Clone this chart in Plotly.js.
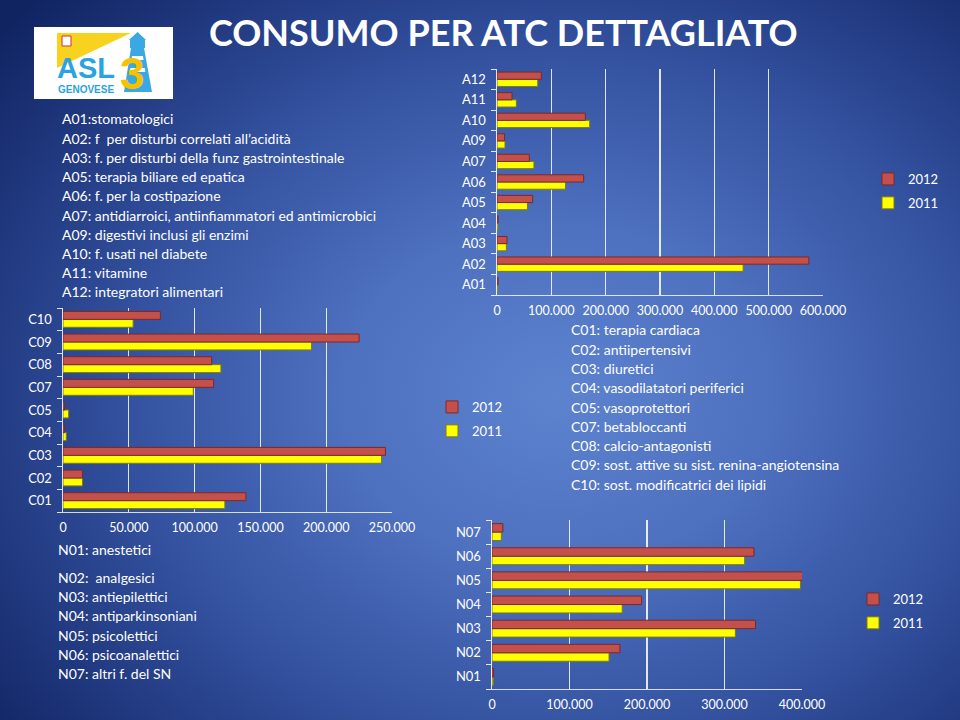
<!DOCTYPE html>
<html><head><meta charset="utf-8">
<script src="https://cdn.plot.ly/plotly-3.0.1.min.js"></script>
<style>
html,body{margin:0;padding:0;width:960px;height:720px;overflow:hidden;}
body{background:radial-gradient(ellipse 75% 80% at 58% 55%, #5d83cf 0%, #4d70bf 30%, #33519f 60%, #1d3479 85%, #102461 100%);}
#chart{width:960px;height:720px;}
</style></head>
<body><div id="chart"></div>
<script>
// ---- data ----
const catA = ['A01','A02','A03','A04','A05','A06','A07','A09','A10','A11','A12'];
const a2012 = [2000,574000,18400,2000,65600,159500,59500,14000,162600,27600,81600];
const a2011 = [1500,453000,17200,1800,56000,126000,68000,14700,170600,35600,75000];

const catC = ['C01','C02','C03','C04','C05','C07','C08','C09','C10'];
const c2012 = [139000,14800,245000,1000,1200,114500,113000,225000,74000];
const c2011 = [123000,14800,242000,2500,4300,99000,120000,188800,53300];

const catN = ['N01','N02','N03','N04','N05','N06','N07'];
const n2012 = [2000,165000,340000,193000,401000,338000,14000];
const n2011 = [1500,151000,314000,168000,398000,326000,12000];

const seriesNames = ['2012','2011'];

const listA = ['A01:stomatologici','A02: f  per disturbi correlati all\u2019acidità','A03: f. per disturbi della funz gastrointestinale','A05: terapia biliare ed epatica','A06: f. per la costipazione','A07: antidiarroici, antiinfiammatori ed antimicrobici','A09: digestivi inclusi gli enzimi','A10: f. usati nel diabete','A11: vitamine','A12: integratori alimentari'];
const listC = ['C01: terapia cardiaca','C02: antiipertensivi','C03: diuretici','C04: vasodilatatori periferici','C05: vasoprotettori','C07: betabloccanti','C08: calcio-antagonisti','C09: sost. attive su sist. renina-angiotensina','C10: sost. modificatrici dei lipidi'];
const listN = ['N01: anestetici','N02:  analgesici','N03: antiepilettici','N04: antiparkinsoniani','N05: psicolettici','N06: psicoanalettici','N07: altri f. del SN'];

const TITLE = 'CONSUMO PER ATC DETTAGLIATO';

// ---- helpers ----
const W = 960, H = 720;
const X = px => px / W;
const Y = py => 1 - py / H;
const FONT = 'Lato, "Open Sans", sans-serif';
const RED = '#c4504c', REDL = '#7e2824', YEL = '#ffff00', YELL = '#7d7d10';

function traces(cats, v12, v11, xa, ya, leg) {
  return [
    {type:'bar', orientation:'h', name:seriesNames[1], y:cats, x:v11, xaxis:xa, yaxis:ya, legend:leg, legendgroup:leg+'b', legendrank:2,
     marker:{color:YEL, line:{color:YELL, width:1}}, hoverinfo:'x+y'},
    {type:'bar', orientation:'h', name:seriesNames[0], y:cats, x:v12, xaxis:xa, yaxis:ya, legend:leg, legendgroup:leg+'a', legendrank:1,
     marker:{color:RED, line:{color:REDL, width:1}}, hoverinfo:'x+y'}
  ];
}

function xax(dom, max, dt, anchor) {
  return {domain:dom, range:[0,max], dtick:dt, tickformat:',d', anchor:anchor,
    showgrid:true, gridcolor:'rgba(255,255,255,0.85)', gridwidth:1.3,
    showline:true, linecolor:'rgba(255,255,255,0.8)', linewidth:1,
    zeroline:false, ticks:'', tickfont:{color:'#ffffff', size:12.5, family:FONT},
    ticklabelstandoff:4, fixedrange:true};
}
function yax(dom, anchor) {
  return {domain:dom, type:'category', anchor:anchor, showgrid:false, zeroline:false,
    showline:true, linecolor:'rgba(255,255,255,0.85)', linewidth:1.5,
    ticks:'outside', tickson:'boundaries', ticklen:5, tickcolor:'rgba(255,255,255,0.85)',
    tickfont:{color:'#ffffff', size:13, family:FONT}, ticklabelstandoff:7, fixedrange:true};
}

const data = [].concat(
  traces(catA, a2012, a2011, 'x', 'y', 'legend'),
  traces(catC, c2012, c2011, 'x2', 'y2', 'legend2'),
  traces(catN, n2012, n2011, 'x3', 'y3', 'legend3')
);

const annotations = [];
annotations.push({text:'<b>'+TITLE+'</b>', x:X(503), y:Y(32), xref:'paper', yref:'paper', showarrow:false,
  xanchor:'center', yanchor:'middle', font:{family:FONT, size:36, color:'#ffffff'}});
function addList(lines, x0, ys) {
  lines.forEach((t,i) => annotations.push({text:t, x:X(x0), y:Y(ys[i]), xref:'paper', yref:'paper', showarrow:false,
    xanchor:'left', yanchor:'middle', font:{family:FONT, size:14, color:'#ffffff'}}));
}
addList(listA, 60, listA.map((_,i)=>119+i*19.2));
addList(listC, 569, listC.map((_,i)=>330+i*19.25));
addList(listN, 56, [549,577,596,615,635,654,673]);

// logo (decorative)
annotations.push({text:'<b>ASL</b>', x:X(55), y:Y(68), xref:'paper', yref:'paper', showarrow:false, xanchor:'left', yanchor:'middle',
  font:{family:'"Liberation Sans", sans-serif', size:29, color:'#2ba3e0'}});
annotations.push({text:'<b>GENOVESE</b>', x:X(56), y:Y(89), xref:'paper', yref:'paper', showarrow:false, xanchor:'left', yanchor:'middle',
  font:{family:'"Liberation Sans", sans-serif', size:10, color:'#2ba3e0'}});
annotations.push({text:'<b>3</b>', x:X(132), y:Y(74), xref:'paper', yref:'paper', showarrow:false, xanchor:'center', yanchor:'middle',
  font:{family:'"Liberation Sans", sans-serif', size:44, color:'#f6c200'}});

function P(pts){ return 'M' + pts.map(p => X(p[0]).toFixed(5)+','+Y(p[1]).toFixed(5)).join(' L') + ' Z'; }
const shapes = [
  {type:'rect', xref:'paper', yref:'paper', x0:X(34), x1:X(173), y0:Y(99), y1:Y(27), fillcolor:'#ffffff', line:{width:0}, layer:'below'},
  {type:'path', xref:'paper', yref:'paper', path:P([[57,33],[131,33],[57,68]]), fillcolor:'#f7d21e', line:{width:0}, layer:'below'},
  {type:'path', xref:'paper', yref:'paper', path:P([[124,92],[152,92],[144,48],[131,48]]), fillcolor:'#3aa8e2', line:{width:0}, layer:'below'},
  {type:'path', xref:'paper', yref:'paper', path:P([[130,48],[145,48],[145,40],[130,40]]), fillcolor:'#3aa8e2', line:{width:0}, layer:'below'},
  {type:'path', xref:'paper', yref:'paper', path:P([[129,40],[146,40],[137.5,32]]), fillcolor:'#3aa8e2', line:{width:0}, layer:'below'},
  {type:'path', xref:'paper', yref:'paper', path:P([[132,56],[143,56],[143.6,60],[131.4,60]]), fillcolor:'#ffffff', line:{width:0}, layer:'below'},
  {type:'path', xref:'paper', yref:'paper', path:P([[130.4,68],[144.8,68],[145.4,72],[129.8,72]]), fillcolor:'#ffffff', line:{width:0}, layer:'below'},
  {type:'rect', xref:'paper', yref:'paper', x0:X(62), x1:X(71), y0:Y(46), y1:Y(36), fillcolor:'#ffffff', line:{color:'#c33', width:1}, layer:'below'}
];

function legendCfg(x, y) {
  return {x:X(x), y:Y(y), xanchor:'left', yanchor:'top', bgcolor:'rgba(0,0,0,0)', borderwidth:0,
    font:{family:FONT, size:13, color:'#ffffff'}, traceorder:'grouped', tracegroupgap:4,
    itemwidth:30, itemclick:false, itemdoubleclick:false};
}

const layout = {
  width:W, height:H, margin:{l:0,r:0,t:0,b:0}, autosize:false,
  paper_bgcolor:'rgba(0,0,0,0)', plot_bgcolor:'rgba(0,0,0,0)',
  separators:',.', barmode:'group', bargap:0.3, bargroupgap:0,
  showlegend:true,
  font:{family:FONT, color:'#ffffff'},
  xaxis: xax([X(497), X(823)], 600000, 100000, 'y'),
  yaxis: yax([Y(295), Y(69)], 'x'),
  xaxis2: xax([X(63), X(392)], 250000, 50000, 'y2'),
  yaxis2: yax([Y(512), Y(308)], 'x2'),
  xaxis3: xax([X(492), X(802)], 400000, 100000, 'y3'),
  yaxis3: yax([Y(689), Y(520)], 'x3'),
  legend: legendCfg(868, 164),
  legend2: legendCfg(432, 392),
  legend3: legendCfg(853, 584),
  annotations: annotations,
  shapes: shapes
};

Plotly.newPlot('chart', data, layout, {displayModeBar:false, staticPlot:true});
</script>
</body></html>
